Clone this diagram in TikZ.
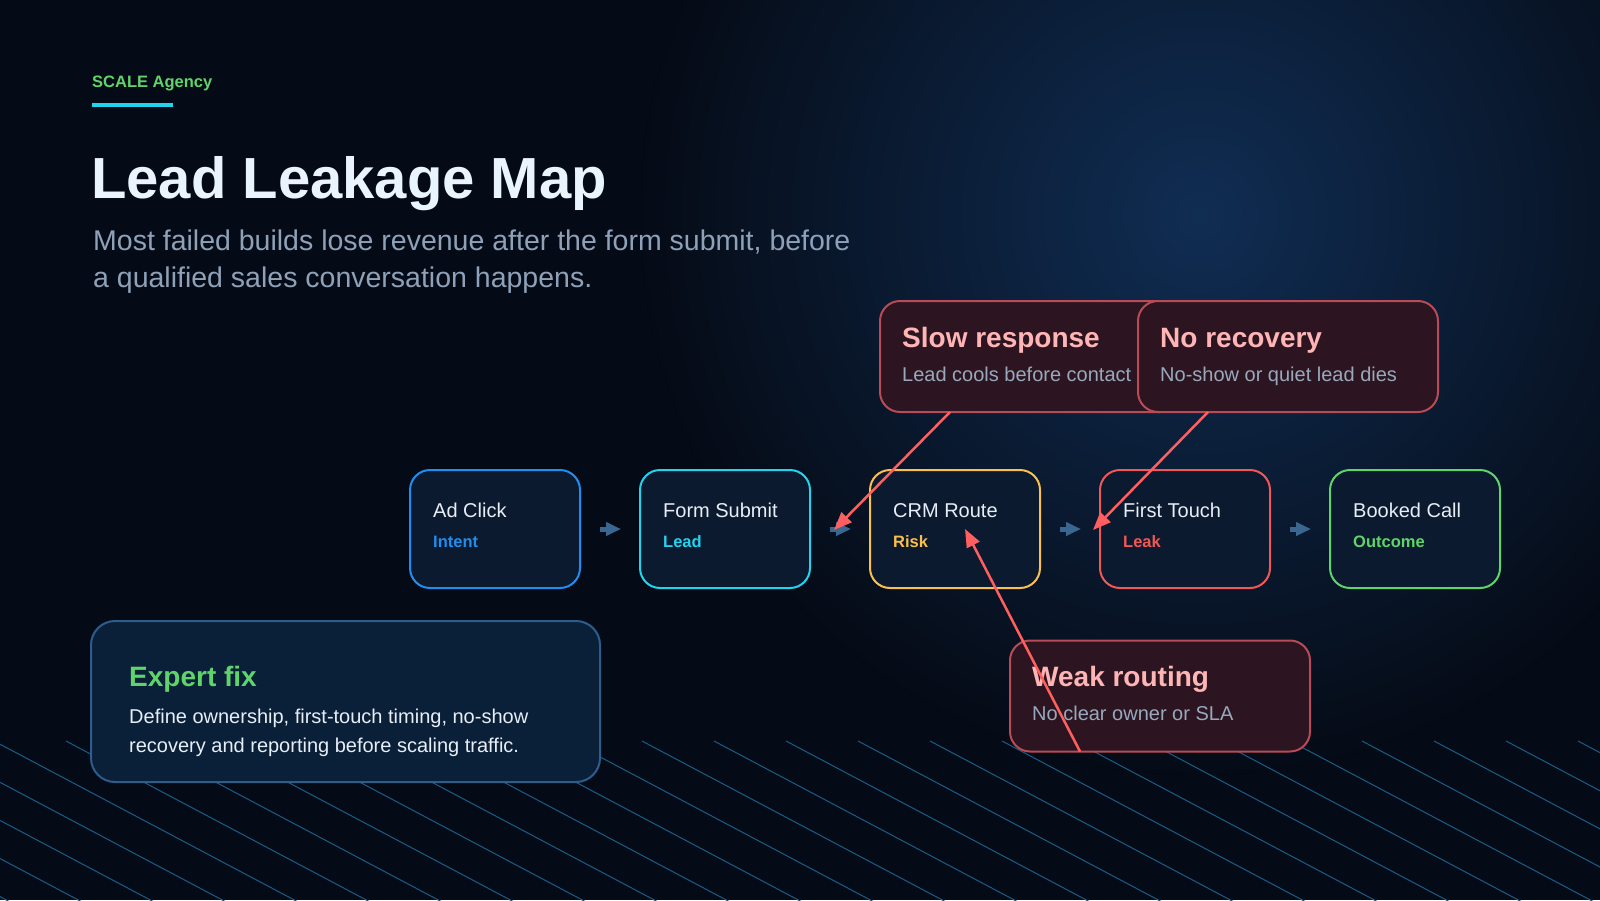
\documentclass[tikz,border=0pt]{standalone}
\usepackage{fontspec}
\setmainfont{Liberation Sans}
\usetikzlibrary{positioning,arrows.meta}
\definecolor{bgnavy}{HTML}{050B16}
\definecolor{glowblue}{HTML}{102D53}
\definecolor{titlewhite}{HTML}{EAF4FF}
\definecolor{ledegrey}{HTML}{8EA1B8}
\definecolor{brandgreen}{HTML}{5FD46B}
\definecolor{brandcyan}{HTML}{22D3EE}
\definecolor{adblue}{HTML}{1F8EF1}
\definecolor{riskamber}{HTML}{FBBF4E}
\definecolor{leakred}{HTML}{F25757}
\definecolor{stagefill}{HTML}{0B1A2E}
\definecolor{stagetext}{HTML}{E8EEF6}
\definecolor{gapblue}{HTML}{3B6690}
\definecolor{leakfill}{HTML}{2C1520}
\definecolor{leakedge}{HTML}{B94B57}
\definecolor{leakpink}{HTML}{FFB5B5}
\definecolor{notegrey}{HTML}{98A9BD}
\definecolor{pointred}{HTML}{FF5F5F}
\definecolor{fixfill}{HTML}{0A1F38}
\definecolor{fixedge}{HTML}{2E5D8C}
\definecolor{hatchblue}{HTML}{1A5C88}

\begin{document}
\begin{tikzpicture}[x=1pt,y=-1pt,node distance=60pt,
  stage/.style={line width=2pt,fill=stagefill,rounded corners=20pt,minimum width=170pt,minimum height=118pt,inner sep=0pt,outer sep=0pt},
  stagename/.style={anchor=base west,inner sep=0pt,text=stagetext,font=\fontsize{20}{24}\selectfont},
  stagetag/.style={anchor=base west,inner sep=0pt,font=\bfseries\fontsize{16.5}{20}\selectfont},
  gap/.style={draw=gapblue,line width=5pt,-{Triangle[length=15pt,width=13pt]},shorten <=20pt,shorten >=19pt},
  leak/.style={draw=leakedge,line width=2pt,fill=leakfill,rounded corners=20pt,minimum width=300pt,minimum height=111pt,inner sep=0pt,outer sep=0pt},
  leakname/.style={anchor=base west,inner sep=0pt,text=leakpink,font=\bfseries\fontsize{28}{32}\selectfont},
  leaknote/.style={anchor=base west,inner sep=0pt,text=notegrey,font=\fontsize{20}{24}\selectfont},
  pointer/.style={draw=pointred,line width=2.5pt,-{Triangle[length=18pt,width=14pt]}},
  hatch/.style={draw=hatchblue,line width=1pt}]
  % backdrop
  \useasboundingbox (0,0) rectangle (1600,900);
  \fill[bgnavy] (0,0) rectangle (1600,900);
  \fill[inner color=glowblue,outer color=bgnavy] (1200,215) circle (560);
  \begin{scope}
    \clip (0,0) rectangle (1600,900);
    \foreach \x in {-294,-222,...,1578}
      \draw[hatch] (\x,741) -- ++(340,180);
  \end{scope}

  % header
  \node[anchor=base west,inner sep=0pt,text=brandgreen,font=\bfseries\fontsize{16.5}{20}\selectfont] (brand) at (92,87) {SCALE Agency};
  \fill[brandcyan] (92,103) rectangle (173,107);
  \node[anchor=base west,inner sep=0pt,text=titlewhite,font=\bfseries\fontsize{58}{64}\selectfont] (title) at (91,198) {Lead Leakage Map};
  \node[anchor=base west,inner sep=0pt,align=left,text=ledegrey,font=\fontsize{28.5}{37}\selectfont] (lede) at (93,287)
    {Most failed builds lose revenue after the form submit, before\\a qualified sales conversation happens.};

  % funnel stages
  \node[stage,draw=adblue] (ad) at (495,529) {};
  \node[stage,draw=brandcyan,right=of ad] (form) {};
  \node[stage,draw=riskamber,right=of form] (crm) {};
  \node[stage,draw=leakred,right=of crm] (touch) {};
  \node[stage,draw=brandgreen,right=of touch] (call) {};
  \node[stagename] (ad-name) at ([shift={(23,47)}]ad.north west) {Ad Click};
  \node[stagetag,text=adblue] (ad-tag) at ([shift={(23,77)}]ad.north west) {Intent};
  \node[stagename] (form-name) at ([shift={(23,47)}]form.north west) {Form Submit};
  \node[stagetag,text=brandcyan] (form-tag) at ([shift={(23,77)}]form.north west) {Lead};
  \node[stagename] (crm-name) at ([shift={(23,47)}]crm.north west) {CRM Route};
  \node[stagetag,text=riskamber] (crm-tag) at ([shift={(23,77)}]crm.north west) {Risk};
  \node[stagename] (touch-name) at ([shift={(23,47)}]touch.north west) {First Touch};
  \node[stagetag,text=leakred] (touch-tag) at ([shift={(23,77)}]touch.north west) {Leak};
  \node[stagename] (call-name) at ([shift={(23,47)}]call.north west) {Booked Call};
  \node[stagetag,text=brandgreen] (call-tag) at ([shift={(23,77)}]call.north west) {Outcome};
  \draw[gap] (ad) -- (form);
  \draw[gap] (form) -- (crm);
  \draw[gap] (crm) -- (touch);
  \draw[gap] (touch) -- (call);

  % expert fix panel
  \node[fill=fixfill,draw=fixedge,line width=2pt,rounded corners=24pt,minimum width=509pt,minimum height=161pt,inner sep=0pt,outer sep=0pt] (fix) at (345.5,701.5) {};
  \node[anchor=base west,inner sep=0pt,text=brandgreen,font=\bfseries\fontsize{28}{32}\selectfont] (fix-name) at ([shift={(38,65)}]fix.north west) {Expert fix};
  \node[anchor=base west,inner sep=0pt,align=left,text=stagetext,font=\fontsize{20}{29}\selectfont] (fix-note) at ([shift={(38,131)}]fix.north west)
    {Define ownership, first-touch timing, no-show\\recovery and reporting before scaling traffic.};

  % leak callouts
  \node[leak] (slow) at (1030,356.5) {};
  \node[leakname] (slow-name) at ([shift={(22,46)}]slow.north west) {Slow response};
  \node[leaknote] (slow-note) at ([shift={(22,80)}]slow.north west) {Lead cools before contact};
  \node[leak] (norec) at (1288,356.5) {};
  \node[leakname] (norec-name) at ([shift={(22,46)}]norec.north west) {No recovery};
  \node[leaknote] (norec-note) at ([shift={(22,80)}]norec.north west) {No-show or quiet lead dies};
  \node[leak] (weak) at (1160,696) {};
  \node[leakname] (weak-name) at ([shift={(22,46)}]weak.north west) {Weak routing};
  \node[leaknote] (weak-note) at ([shift={(22,80)}]weak.north west) {No clear owner or SLA};

  \coordinate (slow-tip) at ([shift={(24,1)}]form.east);
  \coordinate (norec-tip) at ([shift={(-7,1)}]touch.west);
  \coordinate (weak-tip) at ([xshift=10pt]crm.center);
  \draw[pointer] ([xshift=70pt]slow.south west) -- (slow-tip);
  \draw[pointer] ([xshift=70pt]norec.south west) -- (norec-tip);
  \draw[pointer] ([xshift=70pt]weak.south west) -- (weak-tip);
\end{tikzpicture}
\end{document}
